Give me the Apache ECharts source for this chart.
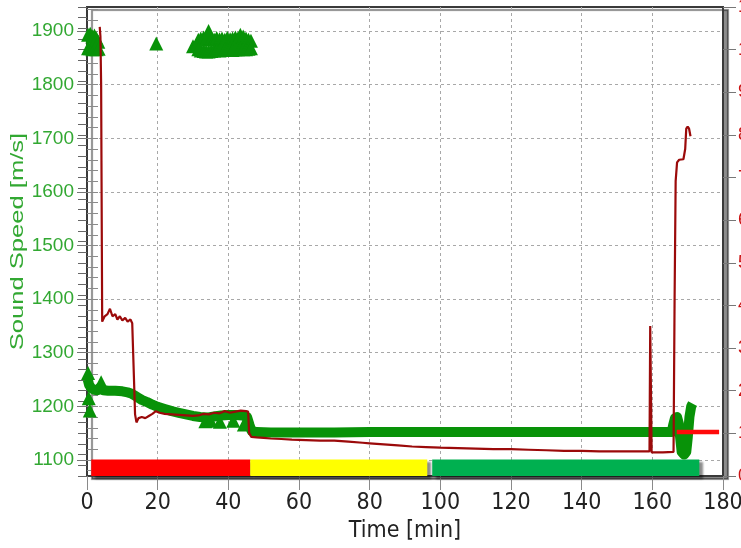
<!DOCTYPE html>
<html>
<head>
<meta charset="utf-8">
<script src="https://cdn.jsdelivr.net/npm/echarts@6/dist/echarts.min.js"></script>
<style>html,body{margin:0;padding:0;background:#fff}#c{width:741px;height:548px}</style>
</head>
<body>
<div id="c"></div>
<script>
// ---------------- DATA ----------------
const xTicks = [0, 20, 40, 60, 80, 100, 120, 140, 160, 180];
const yTickLabels = [1100, 1200, 1300, 1400, 1500, 1600, 1700, 1800, 1900];

// thick green sound-speed band [time(min), speed(m/s)]
const greenBand = [
  [0.2,1250],[0.6,1240],[1.2,1234],[2.0,1231],[3.0,1230],[3.8,1236],[4.6,1230],[6,1229],[8,1229],
  [10,1228],[11.5,1226],[12.5,1224],[13.5,1220],[14.5,1216],[15.5,1212],[17,1208],[18.5,1203],
  [20,1199],[22,1195],[24,1191],[26,1188],[28,1185],[30,1182],[32,1180],[34,1179],[36,1181],
  [38,1183],[40,1184],[42,1184],[44,1183],[45.3,1180],[46.0,1165],[46.6,1154],[48,1152],[52,1151],
  [60,1151],[70,1151],[80,1152],[90,1152],[100,1152],[110,1152],[120,1152],[130,1152],[140,1152],
  [150,1152],[160,1152],[165.5,1152],[165.9,1165],[166.4,1178],[167.0,1180],[167.5,1168],
  [167.9,1140],[168.3,1115],[169.0,1110],[169.6,1115],[170.0,1140],[170.5,1180],[171.0,1200],[171.4,1205]
];

// scattered green triangle readings [time, speed]
const greenPoints = [
  [0.3,1262],[0.5,1215],[0.8,1192],[4.0,1245],[33.5,1172],[35,1173],[37.6,1171],[41.4,1173],[44.4,1166],
  [19.6,1877],
  [0.3,1893],[0.3,1868],[0.9,1895],[0.9,1868],[1.5,1890],[1.5,1866],[2.1,1892],[2.1,1867],
  [2.7,1886],[2.7,1866],[3.2,1880],[3.3,1867],
  [30.0,1872],[31.0,1875],
  [31.5,1884],[32.2,1886],[33,1888],[33.7,1885],[34.4,1900],[35.2,1886],[36,1884],[36.7,1887],
  [37.5,1885],[38.2,1886],[39,1884],[39.7,1887],[40.5,1885],[41.2,1886],[42,1888],[42.7,1886],
  [43.4,1893],[44.2,1890],[45,1886],[45.7,1884],[46.4,1882],
  [31.5,1866],[32.2,1864],[33,1863],[33.7,1862],[34.4,1862],[35.2,1863],[36,1864],[36.7,1865],
  [37.5,1864],[38.2,1865],[39,1866],[39.7,1865],[40.5,1866],[41.2,1865],[42,1866],[42.7,1866],
  [43.4,1867],[44.2,1866],[45,1866],[45.7,1867],[46.4,1868]
];

// dark red trace [time, speed]
const redTrace = [
  [3.6,1908],[3.8,1890],[4.0,1800],[4.2,1500],[4.3,1358],[5.0,1368],[5.8,1372],[6.5,1382],[7.2,1368],
  [8.0,1372],[8.6,1362],[9.3,1368],[10.0,1360],[10.8,1365],[11.5,1358],[12.3,1362],[12.8,1355],
  [13.3,1250],[13.6,1185],[14.0,1170],[14.6,1178],[15.5,1180],[16.5,1178],[17.5,1182],[18.5,1186],
  [19.5,1191],[20.5,1188],[22,1186],[24,1185],[26,1184],[28,1183],[30,1182],[31.5,1183],[33,1186],
  [34.5,1185],[36,1188],[37.5,1187],[39,1191],[40.5,1188],[42,1190],[43.5,1192],[45,1191],[45.6,1190],
  [45.9,1150],[46.5,1143],[48,1142],[50,1141],[52,1140],[55,1139],[58,1138],[62,1137],[66,1136],
  [70,1136],[74,1134],[78,1132],[80,1131],[84,1129],[88,1127],[92,1125],[96,1124],[100,1123],
  [105,1122],[110,1121],[115,1120],[120,1120],[125,1119],[130,1118],[135,1117],[140,1117],[145,1116],
  [150,1116],[155,1116],[159.2,1116],[159.4,1350],[159.8,1114],[163,1114],[166.0,1115],[166.3,1400],
  [166.6,1620],[167.0,1655],[167.6,1660],[168.8,1661],[169.3,1680],[169.6,1718],[170.0,1722],
  [170.4,1718],[170.8,1704]
];

// bright red limit segment (continues beyond the right axis)
const redLimit = [[166.9,1152],[178.9,1152],[179.2,'-'],[183.8,1152],[188,1152]];

// status bars along the bottom
const barStart = [1.2, 46.2, 97.7];
const barEnd = [46.2, 96.3, 173.3];
const barColors = ['#ff0000', '#ffff00', '#00b050'];

// ---------------- LAYOUT ----------------
const Y_MIN = 1070, Y_MAX = 1945, TOP = 7, BOTTOM = 476, LEFT = 87, WIDTH = 636;
const BAR_TOP = 1101, BAR_BOTTOM = 1070;
const k = (BOTTOM - TOP) / (Y_MAX - Y_MIN);
const P = v => BOTTOM - (v - Y_MIN) * k;

const GREEN = '#089208', LABEL_GREEN = '#32a832', DARKRED = '#9b0a0a';
const NARROW = "'Liberation Sans Narrow','Arial Narrow','DejaVu Sans Condensed',sans-serif";

const chart = echarts.init(document.getElementById('c'), null, {renderer: 'canvas'});

const hiddenX = (gi) => ({gridIndex: gi, type: 'value', min: 0, max: 180, show: false});
const gridBase = {left: LEFT, width: WIDTH, containLabel: false, outerBoundsMode: 'none'};

chart.setOption({
  backgroundColor: '#ffffff',
  animation: false,
  grid: [
    Object.assign({}, gridBase, {top: TOP, height: BOTTOM - TOP, show: true, backgroundColor: '#ffffff',
     borderColor: '#3a3a3a', borderWidth: 2, shadowColor: 'rgba(0,0,0,0.45)', shadowOffsetX: 5, shadowOffsetY: 3, shadowBlur: 1}),
    Object.assign({}, gridBase, {top: P(1900), height: P(1100) - P(1900)}),
    Object.assign({}, gridBase, {top: P(1940), height: P(1080) - P(1940)}),
    Object.assign({}, gridBase, {top: TOP, height: BOTTOM - TOP})
  ],
  xAxis: [
    {gridIndex: 0, type: 'value', min: xTicks[0], max: xTicks[xTicks.length - 1], interval: 20,
     axisLine: {show: false},
     axisTick: {show: true, inside: false, length: 14, lineStyle: {color: '#8a8a8a', width: 1}},
     axisLabel: {color: '#222', fontFamily: NARROW, fontSize: 23, margin: 16},
     splitLine: {show: true, showMinLine: false, showMaxLine: false, lineStyle: {color: '#a8a8a8', type: [3, 3], width: 1}},
     name: 'Time [min]', nameLocation: 'middle', nameGap: 44,
     nameTextStyle: {color: '#222', fontFamily: NARROW, fontSize: 23}},
    hiddenX(1), hiddenX(2), hiddenX(3)
  ],
  yAxis: [
    {gridIndex: 0, type: 'value', min: Y_MIN, max: Y_MAX, show: false},
    {gridIndex: 1, type: 'value', min: yTickLabels[0], max: yTickLabels[yTickLabels.length - 1], interval: 100,
     axisLine: {show: false},
     axisTick: {show: true, inside: false, length: 10, lineStyle: {color: '#777'}},
     axisLabel: {color: LABEL_GREEN, fontFamily: "'Liberation Sans',Arial,sans-serif", fontSize: 19, margin: 13,
                 formatter: v => String(v)},
     splitLine: {show: true, lineStyle: {color: '#a8a8a8', type: [3, 3], width: 1}}},
    {gridIndex: 2, type: 'value', min: 1080, max: 1940, interval: 20,
     axisLine: {show: false}, axisLabel: {show: false}, splitLine: {show: false},
     axisTick: {show: true, inside: true, length: 11, lineStyle: {color: '#8a8a8a'}}},
    {gridIndex: 3, type: 'value', position: 'right', min: 0, max: 11, interval: 1,
     axisLine: {show: false}, axisLabel: {show: false}, splitLine: {show: false},
     axisTick: {show: true, inside: true, length: 9, lineStyle: {color: '#666'}},
     minorTick: {show: true, splitNumber: 4, length: 9, lineStyle: {color: '#666'}}},
    {gridIndex: 3, type: 'value', position: 'right', min: 0, max: 11, interval: 1,
     axisLine: {show: false}, splitLine: {show: false},
     axisTick: {show: true, inside: false, length: 13, lineStyle: {color: '#777'}},
     axisLabel: {show: true, color: '#cc1111', fontSize: 18, margin: 15,
                 formatter: v => String(Math.round(v * 10))}}
  ],
  graphic: [{
    type: 'text', x: 18, y: (TOP + BOTTOM) / 2, rotation: Math.PI / 2, scaleX: 1.42,
    style: {text: 'Sound Speed [m/s]', fill: LABEL_GREEN, font: "18px 'Liberation Sans', Arial, sans-serif",
            align: 'center', verticalAlign: 'middle', textAlign: 'center', textVerticalAlign: 'middle'}
  }],
  series: [
    {type: 'custom', xAxisIndex: 0, yAxisIndex: 0, z: 1,
     data: barStart.map((s, i) => [s, barEnd[i]]),
     renderItem: (params, api) => {
       const a = api.coord([api.value(0), BAR_TOP]);
       const b = api.coord([api.value(1), BAR_BOTTOM]);
       return {type: 'rect', shape: {x: a[0], y: a[1], width: b[0] - a[0], height: b[1] - a[1]},
               style: {fill: barColors[params.dataIndex], shadowBlur: 2, shadowOffsetX: 4, shadowOffsetY: 3,
                       shadowColor: 'rgba(0,0,0,0.45)'}};
     }},
    {type: 'line', xAxisIndex: 0, yAxisIndex: 0, z: 2, data: greenBand, showSymbol: false, symbol: 'none',
     lineStyle: {color: GREEN, width: 10, join: 'round'}},
    {type: 'scatter', xAxisIndex: 0, yAxisIndex: 0, z: 2, data: greenPoints, symbol: 'triangle', symbolSize: 14,
     itemStyle: {color: GREEN, opacity: 1}},
    {type: 'line', xAxisIndex: 0, yAxisIndex: 0, z: 4, data: redTrace, showSymbol: false, symbol: 'none',
     lineStyle: {color: DARKRED, width: 2.2}},
    {type: 'line', xAxisIndex: 0, yAxisIndex: 0, z: 5, data: redLimit, showSymbol: false, symbol: 'none',
     clip: false, lineStyle: {color: '#ff0a0a', width: 4.5}}
  ]
});
</script>
</body>
</html>
